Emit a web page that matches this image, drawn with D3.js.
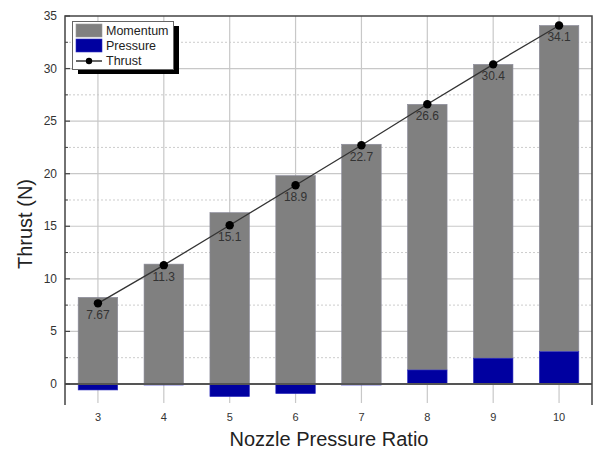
<!DOCTYPE html>
<html><head><meta charset="utf-8">
<script src="https://cdn.jsdelivr.net/npm/d3@7"></script>
<style>body{margin:0;background:#fff}svg{display:block;font-family:Arial,"Liberation Sans",sans-serif}</style>
</head><body><svg id="c" width="596" height="452"></svg>
<script>
const npr = [3, 4, 5, 6, 7, 8, 9, 10];
const thrust = [7.67, 11.3, 15.1, 18.9, 22.7, 26.6, 30.4, 34.1];
const pressure = [-0.57, -0.1, -1.2, -0.92, -0.1, 1.33, 2.45, 3.07];
const thrustLabels = ["7.67", "11.3", "15.1", "18.9", "22.7", "26.6", "30.4", "34.1"];
const yTicks = [0, 5, 10, 15, 20, 25, 30, 35];

const svg = d3.select("#c");
const L = 65, R = 592, T = 16, B = 405;
const x = d3.scaleLinear().domain([2.5, 10.5]).range([L, R]);
const y = d3.scaleLinear().domain([-2, 35]).range([B, T]);
const bw = x(3.6) - x(3);

// grid
const g = svg.append("g");
d3.range(2.5, 35, 5).forEach(v => {
  g.append("line").attr("x1", L).attr("x2", R).attr("y1", y(v)).attr("y2", y(v))
    .attr("stroke", "#ccc").attr("stroke-width", 1).attr("stroke-dasharray", "2,2");
});
yTicks.forEach(v => {
  if (v === 0 || v === 35) return;
  g.append("line").attr("x1", L).attr("x2", R).attr("y1", y(v)).attr("y2", y(v))
    .attr("stroke", "#c8c8c8").attr("stroke-width", 1.2);
});
npr.forEach(v => {
  g.append("line").attr("x1", x(v)).attr("x2", x(v)).attr("y1", T).attr("y2", B - 2)
    .attr("stroke", "#c8c8c8").attr("stroke-width", 1.2);
});

// bars
const data = npr.map((n, i) => {
  const p = pressure[i], mom = thrust[i] - p;
  return { n, p, mom, base: p > 0 ? p : 0 };
});
svg.append("g").selectAll("rect.m").data(data).join("rect")
  .attr("x", d => x(d.n) - bw / 2).attr("width", bw)
  .attr("y", d => y(d.base + d.mom)).attr("height", d => y(d.base) - y(d.base + d.mom))
  .attr("fill", "#808080").attr("stroke", "#8a8a9a").attr("stroke-width", 0.6);
svg.append("g").selectAll("rect.p").data(data).join("rect")
  .attr("x", d => x(d.n) - bw / 2).attr("width", bw)
  .attr("y", d => y(Math.max(d.p, 0))).attr("height", d => Math.abs(y(d.p) - y(0)))
  .attr("fill", "#0000a0").attr("stroke", "#3030c0").attr("stroke-width", 0.6);

// zero line
svg.append("line").attr("x1", L).attr("x2", R).attr("y1", y(0)).attr("y2", y(0))
  .attr("stroke", "#555").attr("stroke-width", 2);

// thrust line
const line = d3.line().x((d, i) => x(npr[i])).y(d => y(d));
svg.append("path").datum(thrust).attr("d", line).attr("fill", "none")
  .attr("stroke", "#333").attr("stroke-width", 1.3);
svg.append("g").selectAll("circle").data(thrust).join("circle")
  .attr("cx", (d, i) => x(npr[i])).attr("cy", d => y(d)).attr("r", 4.2).attr("fill", "#000");
svg.append("g").selectAll("text").data(thrust).join("text")
  .attr("x", (d, i) => x(npr[i])).attr("y", d => y(d) + 16)
  .attr("text-anchor", "middle").attr("font-size", 12).attr("fill", "#333")
  .text((d, i) => thrustLabels[i]);

// frame
const fr = svg.append("g").attr("stroke", "#444").attr("stroke-width", 1.5).attr("fill", "none");
fr.append("path").attr("d", `M${L},${B}V${T}H${R}V${B}`);

// y ticks
const yAxis = svg.append("g");
yTicks.forEach(v => {
  yAxis.append("line").attr("x1", L).attr("x2", L + 5).attr("y1", y(v)).attr("y2", y(v)).attr("stroke", "#444").attr("stroke-width", 1.2);
  yAxis.append("text").attr("x", L - 8).attr("y", y(v) + 4).attr("text-anchor", "end")
    .attr("font-size", 12).attr("fill", "#333").text(v);
});
d3.range(2.5, 35, 5).forEach(v => {
  yAxis.append("line").attr("x1", L).attr("x2", L + 3).attr("y1", y(v)).attr("y2", y(v)).attr("stroke", "#444").attr("stroke-width", 1);
});
// x tick labels
npr.forEach(v => {
  svg.append("text").attr("x", x(v)).attr("y", B + 16).attr("text-anchor", "middle")
    .attr("font-size", 11).attr("fill", "#333").text(v);
});

// axis titles
svg.append("text").attr("x", 329).attr("y", 446).attr("text-anchor", "middle")
  .attr("font-size", 20).attr("fill", "#222").text("Nozzle Pressure Ratio");
svg.append("text").attr("transform", `translate(32,224) rotate(-90)`)
  .attr("text-anchor", "middle").attr("font-size", 20).attr("fill", "#222").text("Thrust (N)");

// legend
const lg = svg.append("g");
lg.append("rect").attr("x", 78).attr("y", 26).attr("width", 101).attr("height", 48).attr("fill", "#000");
lg.append("rect").attr("x", 72.5).attr("y", 21.5).attr("width", 101).attr("height", 48).attr("fill", "#fff").attr("stroke", "#666").attr("stroke-width", 1);
lg.append("rect").attr("x", 76).attr("y", 24).attr("width", 26).attr("height", 13).attr("fill", "#808080").attr("stroke", "#999").attr("stroke-width", 0.6);
lg.append("rect").attr("x", 76).attr("y", 39).attr("width", 26).attr("height", 13).attr("fill", "#0000a0").attr("stroke", "#3030c0").attr("stroke-width", 0.6);
lg.append("line").attr("x1", 76).attr("x2", 102).attr("y1", 61).attr("y2", 61).attr("stroke", "#000").attr("stroke-width", 1.2);
lg.append("circle").attr("cx", 89).attr("cy", 61).attr("r", 3.2).attr("fill", "#000");
[["Momentum", 35], ["Pressure", 50], ["Thrust", 65]].forEach(([t, yy]) => {
  lg.append("text").attr("x", 106).attr("y", yy).attr("font-size", 12.5).attr("fill", "#222").text(t);
});
</script></body></html>
